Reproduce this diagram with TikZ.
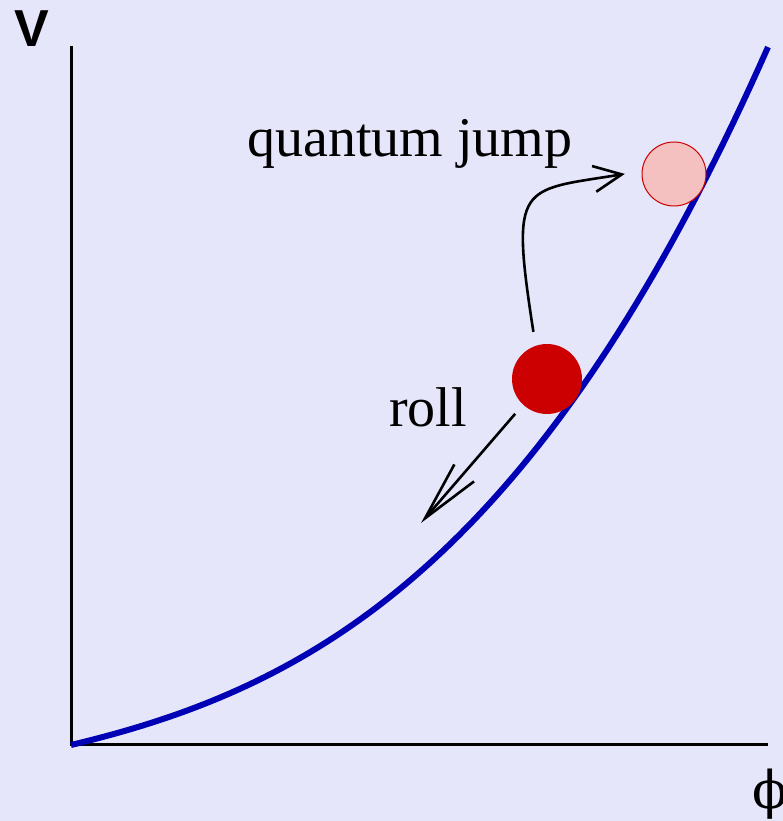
\documentclass[tikz,border=0pt]{standalone}
\usepackage{fontspec}
\setmainfont{Liberation Serif}
\newfontfamily\axissans{Liberation Sans}
\newfontfamily\greekserif{DejaVu Serif}
\usetikzlibrary{arrows.meta}
\definecolor{bglavender}{RGB}{230,230,250}
\definecolor{potblue}{RGB}{0,0,180}
\definecolor{ballred}{RGB}{204,0,0}
\definecolor{ballpink}{RGB}{244,192,192}

\begin{document}
\begin{tikzpicture}[x=1pt, y=1pt,
    axisline/.style={line width=3pt, black},
    motion/.style={line width=2.6pt, black},
    biglabel/.style={font=\fontsize{56}{60}\selectfont, inner sep=0pt}]
  \fill[bglavender] (0,0) rectangle (783,821);
  \useasboundingbox (0,0) rectangle (783,821);

  % axes
  \coordinate (origin) at (71,76);
  \coordinate (vtop) at (71,775);
  \coordinate (phiend) at (768,76);
  \draw[axisline] (vtop) -- (origin) -- (phiend);
  \node[font=\axissans\bfseries\fontsize{52}{56}\selectfont, inner sep=0pt, anchor=base west] (vlabel) at (14,774) {V};
  \node[font=\greekserif\fontsize{52}{56}\selectfont, inner sep=0pt] (philabel) at (770,27) {ϕ};

  % potential
  \draw[potblue, line width=6pt, line join=round] plot[domain=0:6.97, samples=80]
    ({71+100*\x}, {76+23.9*\x+3.795*\x*\x+1.0248*\x*\x*\x});

  % balls
  \node[circle, fill=ballred, minimum size=70pt, inner sep=0pt] (rolling) at (547,442) {};
  \node[circle, fill=ballpink, draw=ballred, line width=1pt, minimum size=64pt, inner sep=0pt] (jumped) at (674,647) {};

  % motions
  \draw[motion, -{Straight Barb[length=28pt,width=26pt]}, shorten <=14pt, shorten >=17pt]
    (rolling.109) .. controls (510,640) and (520,630) .. (jumped.175);
  \coordinate (rollend) at (421,298);
  \draw[motion, -{Straight Barb[length=60pt,width=26pt]}, shorten <=12pt] (rolling.227) -- (rollend);

  \node[biglabel, anchor=base west] (jumplabel) at (247,664) {quantum jump};
  \node[biglabel, anchor=base west] (rolllabel) at (389,394) {roll};
\end{tikzpicture}
\end{document}
